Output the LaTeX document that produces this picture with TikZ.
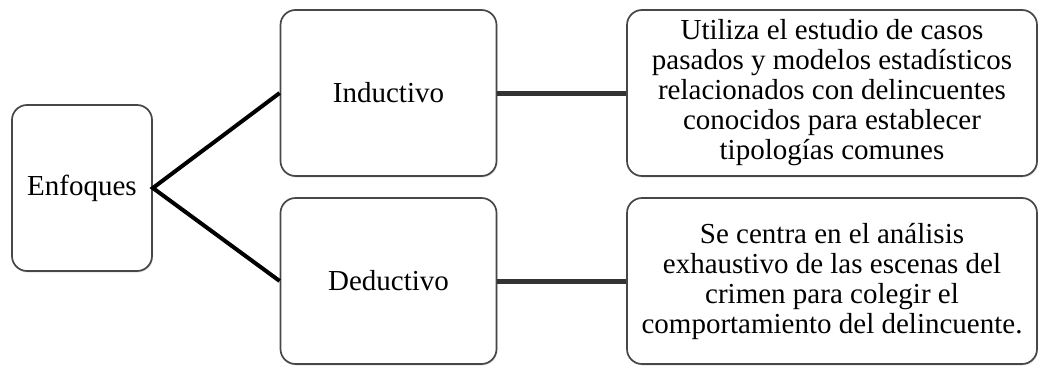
\documentclass[tikz,border=0pt]{standalone}
\usepackage{fontspec}
\setmainfont{Liberation Serif}
\usetikzlibrary{shadows}
\begin{document}
\begin{tikzpicture}[x=1pt,y=-1pt,
  box/.style={draw=black!72, line width=1.7pt, rounded corners=15pt, fill=white,
    align=center, inner sep=0pt,
    font=\fontsize{29}{30}\selectfont,
    drop shadow={opacity=0.22, shadow xshift=1pt, shadow yshift=-1.5pt}},
  branch/.style={line width=4pt, black},
  link/.style={line width=5pt, black!80}]
\useasboundingbox (0,0) rectangle (1040,367);
\node[box, minimum width=140pt, minimum height=166pt] (e) at (82,188) {Enfoques};
\node[box, minimum width=216pt, minimum height=166pt] (ind) at (388.5,93) {Inductivo};
\node[box, minimum width=216pt, minimum height=166pt] (ded) at (388.5,281) {Deductivo};
\node[box, minimum width=410pt, minimum height=166pt] (r1) at (832,93)
  {Utiliza el estudio de casos\\pasados y modelos estadísticos\\relacionados con delincuentes\\conocidos para establecer\\tipologías comunes};
\node[box, minimum width=410pt, minimum height=166pt] (r2) at (832,281)
  {Se centra en el análisis\\exhaustivo de las escenas del\\crimen para colegir el\\comportamiento del delincuente.};
\draw[branch] (ind.west) -- (e.east) -- (ded.west);
\draw[link] (ind.east) -- (r1.west);
\draw[link] (ded.east) -- (r2.west);
\end{tikzpicture}
\end{document}
